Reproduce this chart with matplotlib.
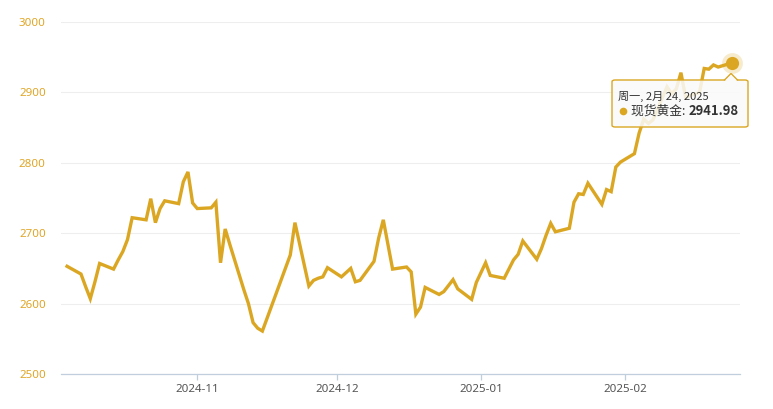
import numpy as np
import pandas as pd
import matplotlib
matplotlib.use("Agg")
import matplotlib.pyplot as plt
import matplotlib.dates as mdates
from matplotlib.patches import FancyBboxPatch, Polygon
from matplotlib.lines import Line2D

# spot gold daily close
dates = [
    "2024-10-04", "2024-10-07", "2024-10-08", "2024-10-09", "2024-10-10", "2024-10-11",
    "2024-10-14", "2024-10-15", "2024-10-16", "2024-10-17", "2024-10-18",
    "2024-10-21", "2024-10-22", "2024-10-23", "2024-10-24", "2024-10-25",
    "2024-10-28", "2024-10-29", "2024-10-30", "2024-10-31", "2024-11-01",
    "2024-11-04", "2024-11-05", "2024-11-06", "2024-11-07", "2024-11-08",
    "2024-11-11", "2024-11-12", "2024-11-13", "2024-11-14", "2024-11-15",
    "2024-11-18", "2024-11-19", "2024-11-20", "2024-11-21", "2024-11-22",
    "2024-11-25", "2024-11-26", "2024-11-27", "2024-11-28", "2024-11-29",
    "2024-12-02", "2024-12-03", "2024-12-04", "2024-12-05", "2024-12-06",
    "2024-12-09", "2024-12-10", "2024-12-11", "2024-12-12", "2024-12-13",
    "2024-12-16", "2024-12-17", "2024-12-18", "2024-12-19", "2024-12-20",
    "2024-12-23", "2024-12-24", "2024-12-26", "2024-12-27",
    "2024-12-30", "2024-12-31", "2025-01-02", "2025-01-03",
    "2025-01-06", "2025-01-07", "2025-01-08", "2025-01-09", "2025-01-10",
    "2025-01-13", "2025-01-14", "2025-01-15", "2025-01-16", "2025-01-17",
    "2025-01-20", "2025-01-21", "2025-01-22", "2025-01-23", "2025-01-24",
    "2025-01-27", "2025-01-28", "2025-01-29", "2025-01-30", "2025-01-31",
    "2025-02-03", "2025-02-04", "2025-02-05", "2025-02-06", "2025-02-07",
    "2025-02-10", "2025-02-11", "2025-02-12", "2025-02-13", "2025-02-14",
    "2025-02-17", "2025-02-18", "2025-02-19", "2025-02-20", "2025-02-21",
    "2025-02-24",
]
prices = [
    2653, 2642, 2624, 2607, 2631, 2657,
    2649, 2662, 2674, 2691, 2722,
    2719, 2749, 2715, 2735, 2746,
    2742, 2773, 2787, 2743, 2735,
    2736, 2744, 2658, 2706, 2684,
    2620, 2600, 2573, 2565, 2561,
    2615, 2633, 2651, 2669, 2715,
    2625, 2633, 2636, 2638, 2651,
    2638, 2644, 2650, 2631, 2633,
    2660, 2693, 2719, 2684, 2649,
    2652, 2645, 2585, 2595, 2623,
    2613, 2617, 2634, 2621,
    2606, 2630, 2658, 2640,
    2636, 2649, 2662, 2670, 2689,
    2663, 2678, 2697, 2714, 2702,
    2707, 2744, 2756, 2755, 2771,
    2741, 2762, 2759, 2794, 2801,
    2813, 2842, 2862, 2856, 2861,
    2908, 2898, 2905, 2928, 2893,
    2900, 2934, 2933, 2939, 2936,
    2941.98,
]
y_ticks = [2500, 2600, 2700, 2800, 2900, 3000]
month_ticks = ["2024-11-01", "2024-12-01", "2025-01-01", "2025-02-01"]
tip_date = "周一, 2月 24, 2025"
tip_name = "现货黄金"

gold = "#dba723"
label_gold = "#e0a526"

df = pd.DataFrame({"date": pd.to_datetime(dates), "price": prices})

W, H = 773, 409
fig = plt.figure(figsize=(W / 100, H / 100), dpi=100)
ax = fig.add_axes([61 / W, 1 - 374 / H, (740 - 61) / W, (374 - 22) / H])

ax.plot(df["date"], df["price"], color=gold, lw=2.4, solid_joinstyle="miter", zorder=3)

nov1 = pd.Timestamp("2024-11-01")
ax.set_xlim(nov1 - pd.Timedelta(days=29.3), nov1 + pd.Timedelta(days=116.7))
ax.set_ylim(2500, 3000)
ax.set_yticks(y_ticks)
ax.grid(axis="y", color="#eeeeee", lw=0.8, zorder=0)
ax.set_xticks(pd.to_datetime(month_ticks))
ax.xaxis.set_major_formatter(mdates.DateFormatter("%Y-%m"))

for s in ["top", "right", "left"]:
    ax.spines[s].set_visible(False)
ax.spines["bottom"].set_color("#c0cedd")
ax.spines["bottom"].set_linewidth(0.9)
ax.tick_params(axis="y", length=0, pad=11, labelsize=8.3, labelcolor=label_gold)
ax.tick_params(axis="x", length=4, width=0.9, color="#c0cedd", pad=3,
               labelsize=8.3, labelcolor="#555555")
for t in ax.get_xticklabels() + ax.get_yticklabels():
    t.set_fontfamily(["Noto Sans", "DejaVu Sans"])

# highlighted last point
last_x = mdates.date2num(df["date"].iloc[-1])
last_y = df["price"].iloc[-1]
ax.plot([last_x], [last_y], "o", ms=15, color=gold, alpha=0.22, mec="none", zorder=4, clip_on=False)
ax.plot([last_x], [last_y], "o", ms=9.5, color=gold, mec="none", zorder=5, clip_on=False)

# tooltip in pixel coordinates
def px(x, y):
    return (x / W, 1 - y / H)

bx0, by0, bx1, by1 = 612, 80, 748, 127
box = FancyBboxPatch(px(bx0, by1), (bx1 - bx0) / W, (by1 - by0) / H,
                     boxstyle="round,pad=0,rounding_size=0.004",
                     transform=fig.transFigure, facecolor="#fafafa", alpha=0.86,
                     edgecolor="none", zorder=10)
fig.patches.append(box)
border = FancyBboxPatch(px(bx0, by1), (bx1 - bx0) / W, (by1 - by0) / H,
                        boxstyle="round,pad=0,rounding_size=0.004",
                        transform=fig.transFigure, facecolor="none",
                        edgecolor=gold, lw=1.0, zorder=11)
fig.patches.append(border)
tri = Polygon([px(724, 80.5), px(731, 73.5), px(738, 80.5)], closed=False,
              transform=fig.transFigure, facecolor="#fafafa", edgecolor=gold,
              lw=1.0, zorder=12)
fig.patches.append(tri)
cover = Polygon([px(725, 81.2), px(731, 75), px(737, 81.2)], closed=True,
                transform=fig.transFigure, facecolor="#fafafa", edgecolor="none",
                zorder=12)
fig.patches.append(cover)

cjk = ["Noto Sans CJK SC", "DejaVu Sans"]
fig.text(*px(618, 96), tip_date, fontsize=8.0, color="#333333", family=cjk,
         va="center", ha="left", zorder=13)
dx, dy = px(623, 111)
fig.lines.append(Line2D([dx], [dy], marker="o", ms=5.5, color=gold, mec="none",
                        transform=fig.transFigure, zorder=13))
fig.text(*px(631, 111), tip_name + ": ", fontsize=9.2, color="#333333",
         family=cjk, va="center", ha="left", zorder=13)
fig.text(*px(689, 111), f"{last_y:.2f}", fontsize=9.4, color="#333333",
         family=cjk, weight="bold", va="center", ha="left", zorder=13)

fig.savefig("out.png", dpi=100)
